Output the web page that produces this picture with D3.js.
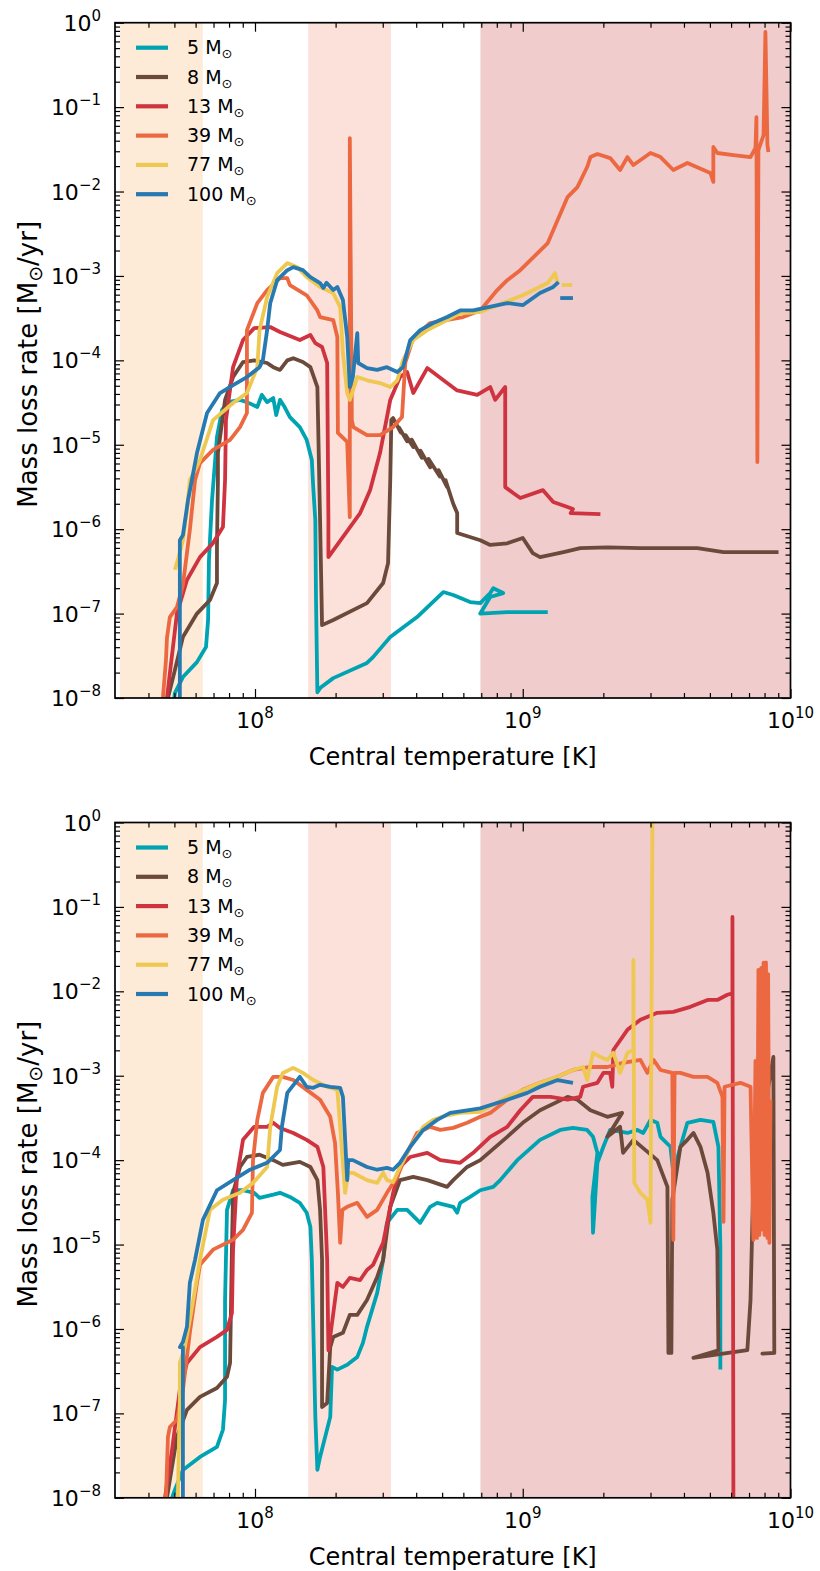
<!DOCTYPE html>
<html>
<head>
<meta charset="utf-8">
<script src="https://cdn.jsdelivr.net/npm/d3@7"></script>
<style>
body { margin: 0; background: #fff; }
text { font-family: "DejaVu Sans", sans-serif; fill: #000; }
</style>
</head>
<body>
<svg id="chart" width="820" height="1571"></svg>
<script>
// masses and colours of the tracks
var masses = ["5", "8", "13", "39", "77", "100"];
var colors = ["#00a3b2", "#6b4a3b", "#cf333f", "#ec6841", "#eec851", "#2779b1"];

// burning phases shaded in the background [Tmin, Tmax]
var bands = [[3.13e7, 6.38e7], [1.58e8, 3.22e8], [6.95e8, 1e10]];
var bandColors = ["#fdebd7", "#fce1da", "#f0cccd"];

var xMajor = [1e8, 1e9, 1e10];
var yMajor = [1e-8, 1e-7, 1e-6, 1e-5, 1e-4, 1e-3, 1e-2, 1e-1, 1];

// ---- top panel: [central T (K), mass loss rate (Msun/yr)]
var top5 = [[4.98e7,9e-9],[5.02e7,1.14e-8],[5.38e7,1.77e-8],[6.07e7,2.66e-8],[6.56e7,4.01e-8],[6.68e7,8.4e-8],[6.73e7,4.3e-7],[6.91e7,2.2e-6],[7.21e7,1.23e-5],[7.53e7,2.58e-5],[7.93e7,3.2e-5],[8.79e7,3.4e-5],[9.33e7,3.2e-5],[1.02e8,2.8e-5],[1.06e8,3.9e-5],[1.11e8,3.2e-5],[1.17e8,3.57e-5],[1.20e8,2.25e-5],[1.24e8,3.4e-5],[1.29e8,2.8e-5],[1.35e8,2.13e-5],[1.47e8,1.62e-5],[1.56e8,1.14e-5],[1.63e8,6.6e-6],[1.65e8,3.15e-6],[1.68e8,1.28e-6],[1.69e8,1.45e-7],[1.71e8,1.17e-8],[1.75e8,1.31e-8],[1.96e8,1.72e-8],[2.62e8,2.6e-8],[2.76e8,3.05e-8],[3.20e8,5.27e-8],[4.03e8,9.1e-8],[5.05e8,1.8e-7],[5.50e8,1.66e-7],[6.36e8,1.37e-7],[6.94e8,1.33e-7],[7.56e8,1.75e-7],[7.76e8,2.0e-7],[8.45e8,1.75e-7],[7.56e8,1.57e-7],[6.94e8,1.0e-7],[8.75e8,1.04e-7],[1.24e9,1.04e-7]];
var top8 = [[4.73e7,1e-8],[5.02e7,2.14e-8],[5.38e7,5.27e-8],[6.07e7,1e-7],[6.79e7,1.45e-7],[7.21e7,2.3e-7],[7.21e7,6.1e-7],[7.27e7,3.8e-6],[7.27e7,7.97e-6],[7.73e7,3.4e-5],[8.28e7,6.34e-5],[9.02e7,9.55e-5],[9.93e7,1.0e-4],[1.11e8,9.3e-5],[1.17e8,8.3e-5],[1.24e8,7.7e-5],[1.32e8,1.0e-4],[1.39e8,1.06e-4],[1.51e8,9.55e-5],[1.61e8,8.3e-5],[1.71e8,4.83e-5],[1.72e8,1.96e-5],[1.75e8,1.28e-6],[1.78e8,7.3e-8],[1.96e8,8.4e-8],[2.62e8,1.33e-7],[3.01e8,2.3e-7],[3.14e8,3.96e-7],[3.20e8,3.8e-6],[3.23e8,1.96e-5],[3.28e8,2.07e-5],[3.50e8,1.4e-5],[3.45e8,1.6e-5],[3.70e8,1.1e-5],[3.65e8,1.3e-5],[3.90e8,9.4e-6],[3.85e8,1.15e-5],[4.20e8,7.0e-6],[4.15e8,8.5e-6],[4.51e8,5.4e-6],[4.45e8,6.8e-6],[4.90e8,4.2e-6],[4.85e8,5.0e-6],[5.22e8,3.15e-6],[5.15e8,3.8e-6],[5.50e8,2.0e-6],[5.69e8,1.55e-6],[5.69e8,9.0e-7],[6.94e8,7.4e-7],[7.56e8,6.5e-7],[8.75e8,6.8e-7],[1.0e9,7.85e-7],[1.09e9,5.2e-7],[1.16e9,4.67e-7],[1.42e9,5.36e-7],[1.64e9,5.97e-7],[2.07e9,6.1e-7],[2.75e9,5.97e-7],[4.49e9,5.97e-7],[5.62e9,5.36e-7],[9.02e9,5.36e-7]];
var top13 = [[4.69e7,1e-8],[5.11e7,1e-7],[5.57e7,2.5e-7],[6.23e7,4.67e-7],[6.97e7,6.84e-7],[7.59e7,1.06e-6],[7.73e7,3.8e-6],[7.79e7,1.96e-5],[8.28e7,8.3e-5],[9.02e7,1.74e-4],[9.93e7,2.41e-4],[1.14e8,2.48e-4],[1.24e8,2.17e-4],[1.47e8,1.74e-4],[1.61e8,2.0e-4],[1.68e8,1.6e-4],[1.78e8,1.44e-4],[1.86e8,9.3e-5],[1.88e8,1.28e-6],[1.88e8,4.67e-7],[1.96e8,5.6e-7],[2.47e8,1.55e-6],[2.69e8,2.9e-6],[2.93e8,7.97e-6],[3.20e8,3.4e-5],[3.48e8,6.34e-5],[3.70e8,7.27e-5],[3.90e8,4.1e-5],[4.40e8,8.1e-5],[5.22e8,5.38e-5],[5.69e8,4.4e-5],[6.76e8,3.9e-5],[7.56e8,4.83e-5],[7.89e8,3.4e-5],[8.60e8,4.83e-5],[8.60e8,3.15e-6],[9.21e8,2.68e-6],[9.79e8,2.34e-6],[1.19e9,2.9e-6],[1.30e9,2.1e-6],[1.47e9,1.83e-6],[1.54e9,1.73e-6],[1.51e9,1.55e-6],[1.95e9,1.51e-6]];
var top39 = [[4.53e7,1e-8],[4.65e7,2.8e-8],[4.69e7,5.13e-8],[4.81e7,9.1e-8],[5.11e7,1.19e-7],[5.38e7,2.18e-7],[5.71e7,9.8e-7],[5.97e7,3.8e-6],[6.23e7,6.07e-6],[6.97e7,8.7e-6],[8.07e7,1.14e-5],[8.79e7,1.62e-5],[9.33e7,2.38e-5],[9.33e7,2.28e-4],[1.02e8,4.77e-4],[1.11e8,6.8e-4],[1.24e8,9.44e-4],[1.32e8,9.44e-4],[1.35e8,7.8e-4],[1.56e8,5.9e-4],[1.71e8,3.9e-4],[1.75e8,3.26e-4],[1.96e8,3.0e-4],[2.03e8,1.89e-4],[2.04e8,1.38e-5],[2.21e8,1.08e-5],[2.26e8,1.39e-6],[2.26e8,4.3e-2],[2.30e8,1.96e-5],[2.33e8,1.62e-5],[2.62e8,1.3e-5],[2.93e8,1.3e-5],[3.28e8,1.62e-5],[3.54e8,2.13e-5],[3.64e8,9.3e-5],[3.90e8,1.84e-4],[4.51e8,2.77e-4],[5.99e8,3.26e-4],[6.94e8,3.9e-4],[8.03e8,6.8e-4],[8.75e8,8.9e-4],[9.79e8,1.17e-3],[1.24e9,2.45e-3],[1.35e9,4.6e-3],[1.47e9,8.6e-3],[1.60e9,1.13e-2],[1.74e9,1.95e-2],[1.79e9,2.56e-2],[1.90e9,2.78e-2],[2.12e9,2.49e-2],[2.31e9,1.8e-2],[2.46e9,2.56e-2],[2.59e9,2.06e-2],[3.00e9,2.86e-2],[3.27e9,2.56e-2],[3.65e9,1.8e-2],[4.12e9,2.18e-2],[5.02e9,1.66e-2],[5.15e9,1.3e-2],[5.15e9,3.37e-2],[5.33e9,2.86e-2],[6.12e9,2.7e-2],[7.09e9,2.56e-2],[7.40e9,3.28e-2],[7.46e9,7.6e-2],[7.52e9,6.24e-6],[7.59e9,3.1e-2],[7.93e9,4.67e-2],[8.06e9,0.776],[8.20e9,3.56e-2],[8.27e9,2.94e-2]];
var top77 = [[5.02e7,3.3e-7],[5.15e7,4.3e-7],[5.38e7,7.4e-7],[5.57e7,1.68e-6],[5.71e7,3.8e-6],[5.97e7,5.0e-6],[6.23e7,6.6e-6],[6.97e7,1.96e-5],[8.28e7,3.12e-5],[9.33e7,4.1e-5],[1.02e8,8.3e-5],[1.04e8,2.28e-4],[1.11e8,5.62e-4],[1.21e8,1.08e-3],[1.32e8,1.42e-3],[1.44e8,1.27e-3],[1.56e8,9.7e-4],[1.75e8,7.4e-4],[1.96e8,6.27e-4],[2.08e8,4.28e-4],[2.13e8,1.22e-4],[2.21e8,4.1e-5],[2.26e8,3.4e-5],[2.41e8,6.34e-5],[2.62e8,5.8e-5],[2.93e8,5.38e-5],[3.20e8,4.83e-5],[3.40e8,5.8e-5],[3.57e8,1.0e-4],[3.90e8,1.74e-4],[4.40e8,2.28e-4],[5.22e8,3.0e-4],[5.84e8,3.63e-4],[6.94e8,3.73e-4],[1.0e9,5.9e-4],[1.24e9,8.24e-4],[1.32e9,1.08e-3],[1.35e9,8.24e-4]];
var top77b = [[1.40e9,7.8e-4],[1.53e9,7.8e-4]];
var top100 = [[5.24e7,1e-8],[5.24e7,1.45e-7],[5.24e7,7.4e-7],[5.38e7,8.5e-7],[5.62e7,2.2e-6],[5.81e7,3.8e-6],[6.07e7,7.97e-6],[6.62e7,2.38e-5],[7.40e7,4.1e-5],[8.28e7,5.1e-5],[9.33e7,6.34e-5],[1.04e8,8.3e-5],[1.07e8,1.0e-4],[1.11e8,2.28e-4],[1.14e8,4.77e-4],[1.21e8,8.9e-4],[1.32e8,1.17e-3],[1.39e8,1.27e-3],[1.51e8,1.17e-3],[1.61e8,9.7e-4],[1.75e8,8.24e-4],[1.80e8,7.2e-4],[1.85e8,8.3e-4],[1.96e8,6.8e-4],[2.03e8,7.4e-4],[2.13e8,5.2e-4],[2.21e8,1.89e-4],[2.26e8,4.83e-5],[2.32e8,6.34e-5],[2.41e8,2.1e-4],[2.43e8,9.3e-5],[2.62e8,8.1e-5],[2.86e8,7.7e-5],[3.11e8,8.3e-5],[3.40e8,7.27e-5],[3.57e8,8.3e-5],[3.80e8,1.74e-4],[4.14e8,2.28e-4],[4.63e8,2.77e-4],[5.22e8,3.26e-4],[5.84e8,3.9e-4],[6.53e8,3.9e-4],[8.75e8,4.77e-4],[1.0e9,4.5e-4],[1.16e9,6.27e-4],[1.30e9,7.4e-4],[1.36e9,8.47e-4]];
var top100b = [[1.38e9,5.47e-4],[1.54e9,5.47e-4]];

// ---- bottom panel
var bot5 = [[4.90e7,1e-8],[5.02e7,1.24e-8],[5.38e7,2.14e-8],[6.23e7,3.05e-8],[7.21e7,4.0e-8],[7.59e7,6.4e-8],[7.73e7,1.45e-7],[7.73e7,2.2e-6],[7.86e7,2.58e-5],[8.28e7,4.4e-5],[9.02e7,4.4e-5],[9.93e7,4.1e-5],[1.04e8,3.57e-5],[1.17e8,3.9e-5],[1.24e8,4.1e-5],[1.35e8,3.67e-5],[1.47e8,3.12e-5],[1.56e8,2.38e-5],[1.61e8,1.62e-5],[1.63e8,6.6e-6],[1.68e8,9.1e-8],[1.71e8,2.14e-8],[1.75e8,3.05e-8],[1.91e8,9.1e-8],[1.94e8,3.56e-7],[2.03e8,3.3e-7],[2.21e8,3.76e-7],[2.41e8,4.67e-7],[2.53e8,6.84e-7],[2.62e8,1.06e-6],[2.86e8,2.68e-6],[3.01e8,6.6e-6],[3.11e8,1.81e-5],[3.40e8,2.58e-5],[3.70e8,2.58e-5],[4.14e8,1.81e-5],[4.51e8,2.8e-5],[4.79e8,3.12e-5],[5.50e8,2.8e-5],[5.69e8,2.38e-5],[5.84e8,3.12e-5],[6.36e8,3.67e-5],[6.94e8,4.4e-5],[7.76e8,4.83e-5],[8.24e8,5.8e-5],[9.54e8,1.0e-4],[1.16e9,1.74e-4],[1.38e9,2.28e-4],[1.54e9,2.41e-4],[1.74e9,2.28e-4],[1.83e9,1.89e-4],[1.90e9,1.22e-4],[1.82e9,3.67e-5],[1.83e9,1.38e-5],[1.90e9,9.3e-5],[2.00e9,1.44e-4],[2.12e9,2.28e-4],[2.46e9,2.1e-4],[2.68e9,2.28e-4],[2.82e9,2.1e-4],[3.00e9,3.0e-4],[3.18e9,2.77e-4],[3.27e9,1.89e-4],[3.56e9,1.44e-4],[3.65e9,7.08e-5],[3.88e9,1.44e-4],[4.12e9,2.77e-4],[4.61e9,3.0e-4],[5.15e9,2.84e-4],[5.38e9,1.44e-4],[5.47e9,9.4e-6],[5.47e9,3.3e-7]];
var bot8 = [[4.69e7,1e-8],[5.11e7,5.27e-8],[5.57e7,1.1e-7],[6.23e7,1.57e-7],[7.21e7,2.0e-7],[7.86e7,2.71e-7],[8.07e7,3.96e-7],[8.20e7,8.7e-6],[8.28e7,4.1e-5],[8.79e7,8.3e-5],[9.33e7,1.09e-4],[1.04e8,1.16e-4],[1.17e8,1.0e-4],[1.27e8,8.8e-5],[1.47e8,9.55e-5],[1.61e8,8.3e-5],[1.71e8,5.8e-5],[1.75e8,2.58e-5],[1.78e8,6.6e-6],[1.78e8,1.19e-7],[1.86e8,1.33e-7],[1.91e8,6.1e-7],[1.96e8,8.05e-7],[2.13e8,9.0e-7],[2.26e8,1.47e-6],[2.41e8,1.47e-6],[2.62e8,2.2e-6],[2.86e8,4.14e-6],[3.01e8,6.6e-6],[3.20e8,2.8e-5],[3.48e8,5.8e-5],[3.90e8,6.34e-5],[4.40e8,5.8e-5],[5.22e8,4.83e-5],[5.50e8,5.8e-5],[6.20e8,8.3e-5],[6.94e8,1.0e-4],[8.75e8,1.89e-4],[1.0e9,2.77e-4],[1.16e9,3.9e-4],[1.47e9,5.62e-4],[1.60e9,5.2e-4],[1.79e9,3.9e-4],[2.07e9,3.26e-4],[2.35e9,3.63e-4],[2.07e9,1.89e-4],[2.31e9,2.48e-4],[2.37e9,1.22e-4],[2.59e9,1.74e-4],[3.18e9,1.0e-4],[3.47e9,4.83e-5],[3.50e9,5.2e-7],[3.59e9,5.2e-7],[3.62e9,3.4e-5],[3.88e9,1.44e-4],[4.12e9,1.74e-4],[4.34e9,2.1e-4],[4.61e9,1.44e-4],[4.90e9,7.08e-5],[5.15e9,2.38e-5],[5.33e9,8.7e-6],[5.38e9,5.6e-7],[4.34e9,4.55e-7],[6.90e9,5.6e-7],[7.09e9,2.2e-6],[7.27e9,6.34e-5],[8.63e9,1.67e-3],[8.70e9,5.2e-7],[7.85e9,5.1e-7],[8.78e9,5.2e-7]];
var bot13 = [[4.61e7,1e-8],[4.90e7,3.7e-8],[5.24e7,1.9e-7],[5.57e7,3.96e-7],[6.23e7,6.1e-7],[7.21e7,8.05e-7],[7.86e7,9.76e-7],[8.20e7,1.55e-6],[8.28e7,8.7e-6],[8.56e7,6.34e-5],[9.02e7,1.74e-4],[9.93e7,2.48e-4],[1.11e8,2.48e-4],[1.17e8,2.77e-4],[1.24e8,2.41e-4],[1.39e8,2.1e-4],[1.56e8,1.74e-4],[1.71e8,1.44e-4],[1.80e8,8.3e-5],[1.86e8,6.6e-6],[1.88e8,5.6e-7],[2.03e8,3.52e-6],[2.13e8,3.15e-6],[2.26e8,4.03e-6],[2.47e8,3.8e-6],[2.62e8,5.0e-6],[2.76e8,5.75e-6],[3.01e8,1.05e-5],[3.28e8,4.1e-5],[3.48e8,8.3e-5],[3.80e8,1.09e-4],[4.40e8,1.22e-4],[4.92e8,1.0e-4],[5.84e8,9.3e-5],[6.53e8,1.22e-4],[7.56e8,1.89e-4],[8.75e8,2.48e-4],[9.79e8,3.9e-4],[1.09e9,5.62e-4],[1.27e9,5.62e-4],[1.47e9,5.2e-4],[1.64e9,5.62e-4],[1.68e9,7.4e-4],[1.90e9,8.24e-4],[2.00e9,1.08e-3],[2.12e9,1.08e-3],[2.16e9,7.4e-4],[2.18e9,2.02e-3],[2.46e9,3.5e-3],[2.75e9,4.6e-3],[3.18e9,5.56e-3],[3.65e9,5.7e-3],[4.23e9,6.55e-3],[4.90e9,7.9e-3],[5.33e9,7.9e-3],[5.81e9,9.1e-3],[6.07e9,9.5e-3],[6.07e9,7.6e-2],[6.12e9,1e-8]];
var bot39 = [[4.65e7,1e-8],[4.73e7,5.27e-8],[4.81e7,6.9e-8],[5.11e7,8.4e-8],[5.38e7,1.9e-7],[5.71e7,9.0e-7],[6.07e7,3.52e-6],[6.23e7,5.75e-6],[6.97e7,8.7e-6],[8.28e7,1.14e-5],[9.02e7,1.49e-5],[9.74e7,2.38e-5],[9.83e7,1.0e-4],[1.02e8,3.0e-4],[1.07e8,6.27e-4],[1.17e8,9.7e-4],[1.27e8,9.7e-4],[1.39e8,8.9e-4],[1.56e8,6.8e-4],[1.75e8,5.2e-4],[1.91e8,3.26e-4],[1.99e8,1.6e-4],[2.04e8,4.1e-5],[2.08e8,1.05e-5],[2.12e8,2.58e-5],[2.21e8,2.8e-5],[2.41e8,3.12e-5],[2.62e8,2.13e-5],[2.86e8,2.58e-5],[3.11e8,4.1e-5],[3.40e8,6.34e-5],[3.70e8,1.22e-4],[4.03e8,2.1e-4],[4.51e8,2.48e-4],[4.92e8,2.28e-4],[5.50e8,2.41e-4],[6.20e8,2.77e-4],[6.94e8,3.26e-4],[7.56e8,3.63e-4],[8.75e8,5.2e-4],[1.0e9,6.8e-4],[1.16e9,8.24e-4],[1.35e9,9.7e-4],[1.54e9,1.17e-3],[1.79e9,1.27e-3],[2.07e9,1.27e-3],[2.37e9,1.42e-3],[2.75e9,1.54e-3],[2.92e9,1.08e-3],[3.08e9,1.54e-3],[3.27e9,1.17e-3],[3.62e9,1.08e-3],[3.65e9,1.14e-5],[3.69e9,1.08e-3],[3.88e9,1.08e-3],[4.34e9,9.7e-4],[4.90e9,9.7e-4],[5.33e9,8.24e-4],[5.57e9,5.62e-4],[5.62e9,1.86e-5],[5.67e9,7.4e-4],[6.50e9,8.24e-4],[7.09e9,7.4e-4],[7.27e9,1.14e-5],[7.40e9,1.5e-3],[7.50e9,1.2e-5],[7.59e9,1.8e-2],[7.65e9,1.3e-5],[7.78e9,1.9e-2],[7.84e9,1.5e-5],[7.93e9,2.18e-2],[8.00e9,1.3e-5],[8.10e9,2.2e-2],[8.20e9,1.2e-5],[8.25e9,1.6e-2],[8.34e9,1.05e-5],[8.42e9,5.2e-4]];
var bot77 = [[5.15e7,1e-8],[5.24e7,1.45e-7],[5.24e7,3.96e-7],[5.47e7,6.1e-7],[5.71e7,1.28e-6],[5.97e7,2.9e-6],[6.23e7,6.6e-6],[6.79e7,2.58e-5],[7.59e7,3.4e-5],[8.79e7,4.1e-5],[9.83e7,5.38e-5],[1.11e8,8.3e-5],[1.14e8,2.48e-4],[1.21e8,7.4e-4],[1.27e8,1.08e-3],[1.39e8,1.24e-3],[1.51e8,1.08e-3],[1.65e8,8.9e-4],[1.86e8,7.4e-4],[2.03e8,6.8e-4],[2.08e8,2.48e-4],[2.17e8,4.1e-5],[2.23e8,7.08e-5],[2.32e8,7.08e-5],[2.62e8,5.8e-5],[2.86e8,5.38e-5],[3.01e8,7.08e-5],[3.11e8,5.8e-5],[3.28e8,5.5e-5],[3.48e8,8.3e-5],[3.80e8,1.44e-4],[4.25e8,2.48e-4],[4.63e8,3.0e-4],[5.22e8,3.4e-4],[5.84e8,3.63e-4],[6.94e8,3.73e-4],[8.75e8,5.62e-4],[1.16e9,8.24e-4],[1.35e9,9.7e-4],[1.54e9,1.17e-3],[1.68e9,1.27e-3],[1.74e9,8.9e-4],[1.83e9,1.87e-3],[1.95e9,1.67e-3],[2.07e9,1.54e-3],[2.18e9,1.87e-3],[2.31e9,1.08e-3],[2.46e9,1.87e-3],[2.59e9,2.02e-3],[2.59e9,2.36e-2],[2.61e9,5.38e-5],[2.75e9,4.1e-5],[2.92e9,3.4e-5],[3.00e9,1.81e-5],[3.05e9,1.0]];
var bot100 = [[5.38e7,1e-8],[5.38e7,6.1e-7],[5.24e7,6.1e-7],[5.38e7,7.03e-7],[5.57e7,1.06e-6],[5.71e7,3.52e-6],[5.97e7,6.6e-6],[6.39e7,1.96e-5],[7.21e7,4.4e-5],[8.28e7,5.8e-5],[9.58e7,7.7e-5],[1.11e8,9.3e-5],[1.24e8,1.32e-4],[1.26e8,2.48e-4],[1.32e8,6.27e-4],[1.47e8,9.7e-4],[1.56e8,7.4e-4],[1.65e8,7.2e-4],[1.75e8,7.8e-4],[1.91e8,7.4e-4],[2.08e8,7.2e-4],[2.13e8,5.62e-4],[2.21e8,5.8e-5],[2.23e8,1.0e-4],[2.32e8,1.0e-4],[2.62e8,8.3e-5],[2.86e8,7.7e-5],[3.11e8,8.1e-5],[3.28e8,7.7e-5],[3.48e8,9.3e-5],[3.80e8,1.44e-4],[4.25e8,2.28e-4],[4.79e8,3.0e-4],[5.36e8,3.63e-4],[6.20e8,3.9e-4],[6.94e8,4.1e-4],[8.75e8,5.2e-4],[1.04e9,6.27e-4],[1.16e9,7.4e-4],[1.35e9,8.9e-4],[1.54e9,8.24e-4]];

var topTracks = [[top5], [top8], [top13], [top39], [top77, top77b], [top100, top100b]];
var botTracks = [[bot5], [bot8], [bot13], [bot39], [bot77], [bot100]];

var svg = d3.select("#chart");
var left = 115;
var W = 675.5, H = 675.3;

var x = d3.scaleLog().domain([3e7, 1e10]).range([0, W]);
var y = d3.scaleLog().domain([1e-8, 1]).range([H, 0]);

var line = d3.line()
    .x(function(d) { return x(d[0]); })
    .y(function(d) { return y(d[1]); });

function expText(v) {
    var e = Math.round(Math.log10(v));
    return e < 0 ? "\u2212" + (-e) : "" + e;
}

function pow10(sel, v) {
    sel.append("tspan").text("10");
    sel.append("tspan").attr("dy", -10).style("font-size", "15px").text(expText(v));
}

function drawPanel(top, tracks, id) {
    var g = svg.append("g").attr("transform", "translate(" + left + "," + top + ")");

    g.append("clipPath").attr("id", "clip" + id)
      .append("rect").attr("width", W).attr("height", H);

    var plot = g.append("g").attr("clip-path", "url(#clip" + id + ")");

    plot.selectAll(".band")
        .data(bands)
        .enter().append("rect")
        .attr("x", function(d) { return x(d[0]); })
        .attr("width", function(d) { return x(d[1]) - x(d[0]); })
        .attr("y", 0)
        .attr("height", H)
        .attr("fill", function(d, i) { return bandColors[i]; });

    tracks.forEach(function(segs, i) {
        segs.forEach(function(s) {
            plot.append("path")
                .datum(s)
                .attr("d", line)
                .attr("fill", "none")
                .attr("stroke", colors[i])
                .attr("stroke-width", 3.8)
                .attr("stroke-linejoin", "round");
        });
    });

    // ticks, inside on all four sides
    var xMinor = x.ticks().filter(function(v) { return xMajor.indexOf(v) < 0 && v > 3e7; });
    var yMinor = y.ticks().filter(function(v) { return yMajor.indexOf(v) < 0; });

    function ticks(axis, vals, size, tx) {
        var a = g.append("g")
            .attr("transform", tx)
            .call(axis.tickValues(vals).tickSize(-size).tickSizeOuter(0).tickFormat(""));
        a.select(".domain").remove();
        a.selectAll("line").attr("stroke-width", 1.2);
        return a;
    }
    ticks(d3.axisBottom(x), xMajor, 9, "translate(0," + H + ")");
    ticks(d3.axisBottom(x), xMinor, 5, "translate(0," + H + ")");
    ticks(d3.axisTop(x), xMajor, 9, "");
    ticks(d3.axisTop(x), xMinor, 5, "");
    ticks(d3.axisLeft(y), yMajor, 9, "");
    ticks(d3.axisLeft(y), yMinor, 5, "");
    ticks(d3.axisRight(y), yMajor, 9, "translate(" + W + ",0)");
    ticks(d3.axisRight(y), yMinor, 5, "translate(" + W + ",0)");

    g.append("rect")
        .attr("width", W).attr("height", H)
        .attr("fill", "none").attr("stroke", "#000").attr("stroke-width", 1.7);

    // tick labels
    g.selectAll(".xl").data(xMajor).enter().append("text")
        .attr("x", function(d) { return x(d); })
        .attr("y", H + 30)
        .attr("text-anchor", "middle")
        .style("font-size", "22px")
        .each(function(d) { pow10(d3.select(this), d); });

    g.selectAll(".yl").data(yMajor).enter().append("text")
        .attr("x", -14)
        .attr("y", function(d) { return y(d) + 8; })
        .attr("text-anchor", "end")
        .style("font-size", "22px")
        .each(function(d) { pow10(d3.select(this), d); });

    // axis titles
    g.append("text")
        .attr("x", W / 2).attr("y", H + 67)
        .attr("text-anchor", "middle")
        .style("font-size", "24px")
        .text("Central temperature [K]");

    var yt = g.append("text")
        .attr("transform", "translate(-78," + (H / 2 + 4) + ") rotate(-90)")
        .attr("text-anchor", "middle")
        .style("font-size", "26px");
    yt.append("tspan").text("Mass loss rate [M");
    yt.append("tspan").attr("dy", 5).style("font-size", "19px").text("\u2299");
    yt.append("tspan").attr("dy", -5).text("/yr]");

    // legend
    var lg = g.selectAll(".leg").data(masses).enter().append("g")
        .attr("transform", function(d, i) { return "translate(0," + (25 + i * 29.3) + ")"; });
    lg.append("line")
        .attr("x1", 21).attr("x2", 53)
        .attr("stroke", function(d, i) { return colors[i]; })
        .attr("stroke-width", 4.2);
    var lt = lg.append("text")
        .attr("x", 72).attr("y", 6.5)
        .style("font-size", "19px");
    lt.append("tspan").text(function(d) { return d + " M"; });
    lt.append("tspan").attr("dy", 4).style("font-size", "13px").text("\u2299");
}

drawPanel(22.7, topTracks, "a");
drawPanel(822.5, botTracks, "b");
</script>
</body>
</html>
